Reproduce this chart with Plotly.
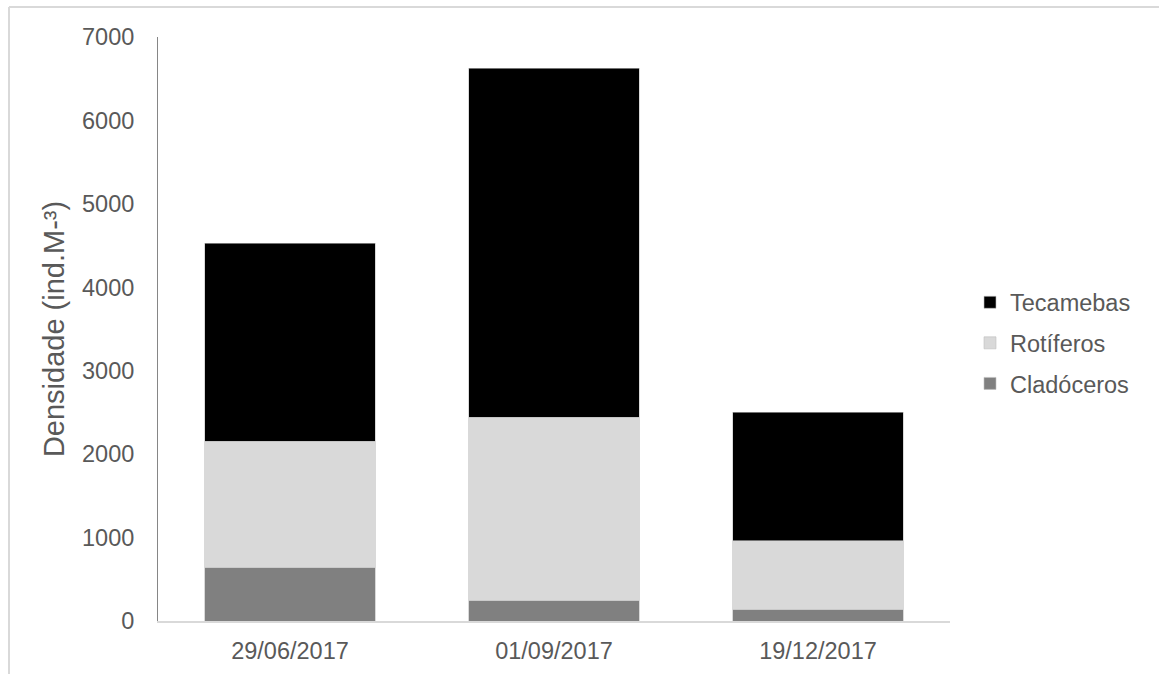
import plotly.graph_objects as go

categories = ["29/06/2017", "01/09/2017", "19/12/2017"]
cladoceros = [637, 240, 132]
rotiferos = [1520, 2205, 827]
tecamebas = [2373, 4180, 1546]

W, H = 1159, 674
L, R, T, B = 158, 209, 37, 53
pw, ph = W - L - R, H - T - B

def px_x(x):
    return (x - L) / pw

def px_y(y):
    return (H - B - y) / ph

font = "Liberation Sans, Arial, sans-serif"
txt = "#595959"

fig = go.Figure()
for name, vals, col, rank in [("Cladóceros", cladoceros, "#808080", 3),
                              ("Rotíferos", rotiferos, "#d9d9d9", 2),
                              ("Tecamebas", tecamebas, "#000000", 1)]:
    fig.add_trace(go.Bar(x=categories, y=vals, name=name, legendgroup=name,
                         legendrank=rank,
                         marker=dict(color=col, line=dict(color="#bfbfbf", width=0.6))))

fig.update_layout(
    width=W, height=H,
    barmode="stack", bargap=0.356,
    margin=dict(l=L, r=R, t=T, b=B, autoexpand=False),
    paper_bgcolor="white", plot_bgcolor="white",
    font=dict(family=font, size=23.5, color=txt),
    legend=dict(x=px_x(970), y=0.476, xanchor="left", yanchor="middle",
                traceorder="grouped", tracegroupgap=7,
                font=dict(size=23.5, color=txt), itemwidth=30),
    xaxis=dict(showline=True, linecolor="#d9d9d9", linewidth=1.5,
               showgrid=False, ticks="", ticklabelstandoff=8,
               tickfont=dict(size=23.5, color=txt)),
    yaxis=dict(range=[0, 7000], dtick=1000, showline=True, linecolor="#868686",
               linewidth=1, showgrid=False, ticks="", zeroline=False,
               ticklabelstandoff=18, tickfont=dict(size=23.5, color=txt),
               title=dict(text="Densidade (ind.M-³)", font=dict(size=29, color=txt),
                          standoff=8)),
    shapes=[
        dict(type="line", xref="paper", yref="paper",
             x0=px_x(9), x1=px_x(1170), y0=px_y(7), y1=px_y(7),
             line=dict(color="#d9d9d9", width=2)),
        dict(type="line", xref="paper", yref="paper",
             x0=px_x(9), x1=px_x(9), y0=px_y(7), y1=px_y(690),
             line=dict(color="#d9d9d9", width=2)),
    ],
)

fig.write_html("out.html")
